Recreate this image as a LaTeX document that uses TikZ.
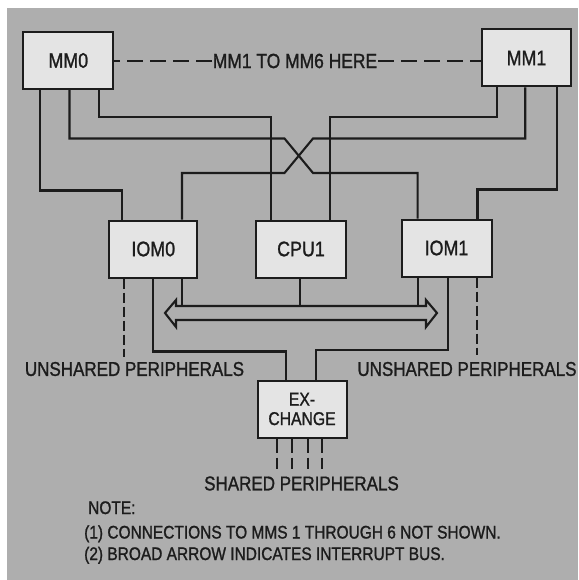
\documentclass[tikz,border=0pt]{standalone}
\usepackage{fontspec}
\setmainfont[FakeStretch=0.85,FakeBold=1.2]{Liberation Sans}
\definecolor{ink}{RGB}{28,28,28}
\definecolor{bg}{RGB}{174,174,174}
\definecolor{boxfill}{RGB}{228,228,228}
\begin{document}
\begin{tikzpicture}[x=1pt,y=-1pt,
  box/.style={draw=ink, fill=boxfill, line width=2pt, minimum width=89pt, minimum height=57pt, inner sep=0pt, text=ink, font=\fontsize{21}{21}\selectfont},
  wire/.style={draw=ink, line width=2.1pt, line join=miter},
  dashwire/.style={wire, dash pattern=on 10pt off 4pt},
  lbl/.style={text=ink, inner sep=0pt, font=\fontsize{20}{20}\selectfont},
  note/.style={text=ink, inner sep=0pt, anchor=base west, font=\fontsize{18.2}{18.2}\selectfont}]
\fill[white] (0,0) rectangle (578,580);
\fill[bg] (7,8) rectangle (578,580);
\useasboundingbox (0,0) rectangle (578,580);

% boxes
\node[box, minimum width=90pt] (MM0) at (68.3,60.5) {MM0};
\node[box] (MM1) at (526.5,58) {MM1};
\node[box, minimum width=88pt] (IOM0) at (153.3,249) {IOM0};
\node[box, minimum width=90pt] (CPU1) at (301,249) {CPU1};
\node[box, minimum width=90pt] (IOM1) at (446.5,248) {IOM1};
\node[box, align=center, font=\fontsize{18.5}{19.5}\selectfont] (EXCH) at (302,409) {EX-\\CHANGE};

% top dashed link
\node[lbl, font=\fontsize{20.5}{20.5}\selectfont, inner sep=1pt] (mmtext) at (295,61) {MM1 TO MM6 HERE};
\draw[wire, dash pattern=on 16pt off 7pt] (mmtext.west) -- (MM0.east |- mmtext.west);
\draw[wire, dash pattern=on 16pt off 7pt] (mmtext.east) -- (MM1.west |- mmtext.east);

% memory connections
\draw[wire] (MM0.south -| 39.8,0) -- (39.8,190.5) -- (121.6,190.5) -- (IOM0.north -| 121.6,0);
\draw[wire] (MM0.south -| 69.5,0) -- (69.5,138.5) -- (284.5,138.5) -- (313,173) -- (417.6,173) -- (IOM1.north -| 417.6,0);
\draw[wire] (MM0.south -| 98.8,0) -- (98.8,117) -- (270.9,117) -- (CPU1.north -| 270.9,0);
\draw[wire] (MM1.south -| 497,0) -- (497,117) -- (329.8,117) -- (CPU1.north -| 329.8,0);
\draw[wire] (MM1.south -| 525.2,0) -- (525.2,138.5) -- (313,138.5) -- (284.5,173) -- (182,173) -- (IOM0.north -| 182,0);
\draw[wire] (MM1.south -| 556.6,0) -- (556.6,189.5) -- (477.5,189.5) -- (IOM1.north -| 477.5,0);

% interrupt bus (broad arrow)
\coordinate (busL) at (165,313);
\coordinate (busR) at (437,313);
\draw[wire, fill=bg] (busL) -- ++(11,-13) -- ++(0,6) -- (426,306) -- ++(0,-6) -- (busR) -- ++(-11,14) -- ++(0,-7) -- (176,320) -- ++(0,7) -- cycle;

% lower connections
\draw[dashwire] (IOM0.south -| 124.2,0) -- (124.2,357);
\draw[wire] (IOM0.south -| 153,0) -- (153,351.5) -- (286.4,351.5) -- (EXCH.north -| 286.4,0);
\draw[wire] (IOM0.south -| 182,0) -- (182,306);
\draw[wire] (CPU1.south -| 300.4,0) -- (300.4,306);
\draw[wire] (IOM1.south -| 418.4,0) -- (418.4,306);
\draw[wire] (IOM1.south -| 447.8,0) -- (447.8,350) -- (316,350) -- (EXCH.north -| 316,0);
\draw[dashwire] (IOM1.south -| 477.3,0) -- (477.3,355);

% shared peripherals
\foreach \x in {277,292,308,322}
  \draw[wire, dash pattern=on 14pt off 5pt on 12pt off 50pt] (EXCH.south -| \x,0) -- (\x,469);

% labels
\node[lbl] (unL) at (134.5,369) {UNSHARED PERIPHERALS};
\node[lbl] (unR) at (467,369) {UNSHARED PERIPHERALS};
\node[lbl] (shared) at (301.5,483.5) {SHARED PERIPHERALS};
\node[note] (note0) at (88,514) {NOTE:};
\node[note] (note1) at (84,538.5) {(1) CONNECTIONS TO MMS 1 THROUGH 6 NOT SHOWN.};
\node[note] (note2) at (84,560) {(2) BROAD ARROW INDICATES INTERRUPT BUS.};
\end{tikzpicture}
\end{document}
